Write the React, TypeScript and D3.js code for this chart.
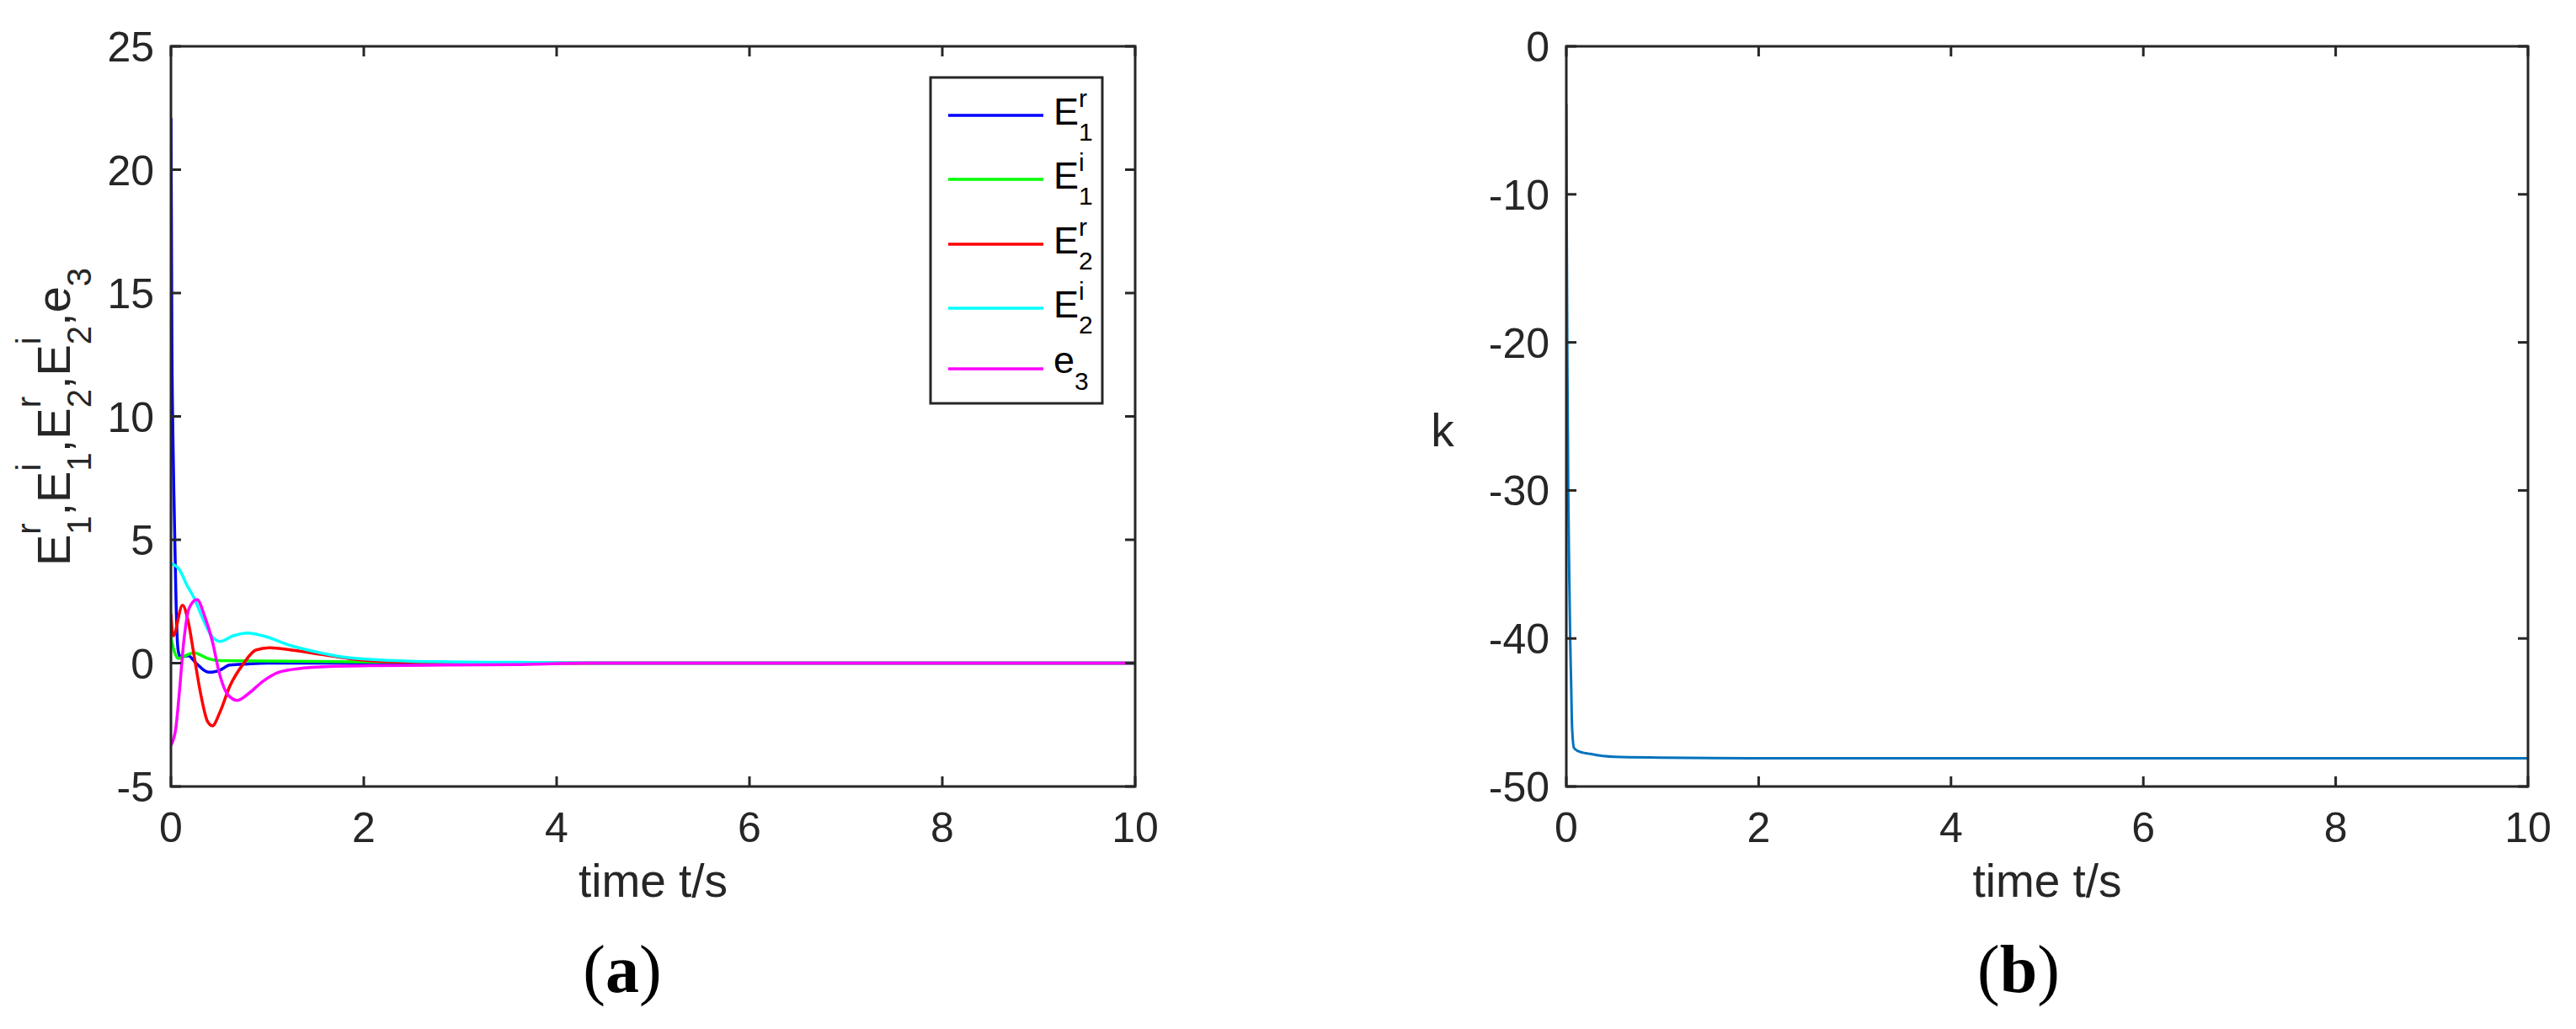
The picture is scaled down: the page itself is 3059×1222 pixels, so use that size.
import React from "react";
import * as d3 from "d3";

const W = 3059;
const H = 1222;
const AXIS = "#262626";
const SANS = "'Liberation Sans', Arial, Helvetica, sans-serif";
const SERIF = "'Liberation Serif', 'Times New Roman', serif";

// tick values
const X_TICKS = [0, 2, 4, 6, 8, 10];
const Y_TICKS_A = [-5, 0, 5, 10, 15, 20, 25];
const Y_TICKS_B = [-50, -40, -30, -20, -10, 0];

// (a) error signals
const T_E1R = [0, 0.005, 0.01, 0.02, 0.035, 0.05, 0.065, 0.08, 0.1, 0.18, 0.26, 0.39, 0.5, 0.61, 0.8, 1.0, 1.5, 10];
const V_E1R = [22.1, 18, 13, 9.3, 6, 3, 1, 0.4, 0.25, 0.3, 0, -0.37, -0.3, -0.08, -0.03, 0, 0, 0];

const T_E1I = [0, 0.03, 0.076, 0.12, 0.24, 0.38, 0.5, 1.25, 2.42, 3.2, 10];
const V_E1I = [1.05, 0.54, 0.19, 0.25, 0.42, 0.19, 0.1, 0.08, 0.03, 0, 0];

const T_E2R = [0, 0.023, 0.12, 0.18, 0.24, 0.31, 0.38, 0.43, 0.51, 0.61, 0.75, 0.88, 1.02, 1.25, 1.55, 1.84, 2.13, 2.6, 3.5, 10];
const V_E2R = [2.0, 1.1, 2.35, 1.67, 0.3, -1.28, -2.37, -2.54, -1.97, -0.94, -0.03, 0.53, 0.62, 0.53, 0.36, 0.19, 0.08, 0.03, 0, 0];

const T_E2I = [0, 0.09, 0.16, 0.24, 0.32, 0.41, 0.51, 0.64, 0.8, 0.96, 1.25, 1.55, 1.84, 2.13, 2.71, 3.58, 4.5, 10];
const V_E2I = [4.04, 3.78, 3.2, 2.64, 1.9, 1.16, 0.88, 1.1, 1.22, 1.1, 0.7, 0.42, 0.22, 0.14, 0.06, 0.03, 0, 0];

const T_E3 = [0, 0.05, 0.09, 0.13, 0.19, 0.27, 0.35, 0.43, 0.5, 0.59, 0.69, 0.79, 0.96, 1.11, 1.25, 1.55, 2.13, 3.58, 4.3, 10];
const V_E3 = [-3.33, -2.65, -1.06, 0.76, 2.24, 2.58, 1.9, 0.88, -0.38, -1.28, -1.51, -1.28, -0.72, -0.38, -0.26, -0.15, -0.1, -0.06, 0, 0];

// (b) gain k
const T_K = [0, 0.004, 0.012, 0.02, 0.03, 0.04, 0.05, 0.06, 0.08, 0.12, 0.25, 0.5, 1, 2, 10];
const V_K = [-3.9, -12, -22.5, -30, -35.5, -40, -43, -46, -47.4, -47.6, -47.8, -48.0, -48.05, -48.1, -48.1];

const SERIES_A = [
  { base: "E", sup: "r", sub: "1", color: "#0000ff", t: T_E1R, v: V_E1R },
  { base: "E", sup: "i", sub: "1", color: "#00ff00", t: T_E1I, v: V_E1I },
  { base: "E", sup: "r", sub: "2", color: "#ff0000", t: T_E2R, v: V_E2R },
  { base: "E", sup: "i", sub: "2", color: "#00ffff", t: T_E2I, v: V_E2I },
  { base: "e", sup: "", sub: "3", color: "#ff00ff", t: T_E3, v: V_E3 },
];

const LEGEND_Y = [137, 213, 290, 366, 438];

type Box = { x0: number; x1: number; y0: number; y1: number };
const BOX_A: Box = { x0: 203, x1: 1348, y0: 55, y1: 934 };
const BOX_B: Box = { x0: 1860, x1: 3002, y0: 55, y1: 934 };

function Frame({ box, x, y, yTicks, id }) {
  const tl = 12;
  return (
    <g>
      <rect x={box.x0} y={box.y0} width={box.x1 - box.x0} height={box.y1 - box.y0}
        fill="none" stroke={AXIS} strokeWidth={3} />
      {X_TICKS.map((t) => (
        <g key={"x" + t}>
          <line x1={x(t)} x2={x(t)} y1={box.y1} y2={box.y1 - tl} stroke={AXIS} strokeWidth={3} />
          <line x1={x(t)} x2={x(t)} y1={box.y0} y2={box.y0 + tl} stroke={AXIS} strokeWidth={3} />
          <text x={x(t)} y={box.y1 + 66} textAnchor="middle" fontFamily={SANS} fontSize={50} fill={AXIS}>{t}</text>
        </g>
      ))}
      {yTicks.map((v) => (
        <g key={"y" + v}>
          <line x1={box.x0} x2={box.x0 + tl} y1={y(v)} y2={y(v)} stroke={AXIS} strokeWidth={3} />
          <line x1={box.x1} x2={box.x1 - tl} y1={y(v)} y2={y(v)} stroke={AXIS} strokeWidth={3} />
          <text x={box.x0 - 20} y={y(v) + 18} textAnchor="end" fontFamily={SANS} fontSize={50} fill={AXIS}>{v}</text>
        </g>
      ))}
      <text x={(box.x0 + box.x1) / 2} y={1065} textAnchor="middle" fontFamily={SANS} fontSize={55} fill={AXIS}>time t/s</text>
    </g>
  );
}

export default function App() {
  const xA = d3.scaleLinear().domain([0, 10]).range([BOX_A.x0, BOX_A.x1]);
  const yA = d3.scaleLinear().domain([-5, 25]).range([BOX_A.y1, BOX_A.y0]);
  const xB = d3.scaleLinear().domain([0, 10]).range([BOX_B.x0, BOX_B.x1]);
  const yB = d3.scaleLinear().domain([-50, 0]).range([BOX_B.y1, BOX_B.y0]);

  const lineA = (s) =>
    d3.line<number>()
      .x((_, i) => xA(s.t[i]))
      .y((d) => yA(d))
      .curve(d3.curveMonotoneX)(s.v);

  const lineK = d3.line<number>()
    .x((_, i) => xB(T_K[i]))
    .y((d) => yB(d))
    .curve(d3.curveMonotoneX)(V_K);

  // y label of (a)
  const yLabelTerms = SERIES_A.map((s) => s);

  return (
    <svg width={W} height={H} style={{ position: "absolute", left: 0, top: 0, background: "#fff" }}>
      <defs>
        <clipPath id="clipA">
          <rect x={BOX_A.x0} y={BOX_A.y0} width={BOX_A.x1 - BOX_A.x0} height={BOX_A.y1 - BOX_A.y0} />
        </clipPath>
        <clipPath id="clipB">
          <rect x={BOX_B.x0} y={BOX_B.y0} width={BOX_B.x1 - BOX_B.x0} height={BOX_B.y1 - BOX_B.y0} />
        </clipPath>
      </defs>
      <rect x={0} y={0} width={W} height={H} fill="#fff" />

      {/* panel (a) */}
      <g clipPath="url(#clipA)">
        {SERIES_A.map((s) => (
          <path key={s.color} d={lineA(s) || ""} fill="none" stroke={s.color} strokeWidth={3.5} strokeLinejoin="round" />
        ))}
      </g>
      <Frame box={BOX_A} x={xA} y={yA} yTicks={Y_TICKS_A} id="a" />

      <text transform={`translate(83,495) rotate(-90)`} textAnchor="middle" fontFamily={SANS} fontSize={56} fill={AXIS}>
        {yLabelTerms.map((s, i) => {
          const supW = s.sup === "r" ? 0.333 * 40 : s.sup === "i" ? 0.222 * 40 : 0;
          return (
            <React.Fragment key={i}>
              <tspan>{s.base}</tspan>
              {s.sup ? <tspan fontSize={40} dy={-35}>{s.sup}</tspan> : null}
              <tspan fontSize={40} dx={-supW} dy={s.sup ? 60 : 25}>{s.sub}</tspan>
              {i < yLabelTerms.length - 1 ? <tspan dy={-25}>,</tspan> : null}
            </React.Fragment>
          );
        })}
      </text>

      {/* legend */}
      <rect x={1105} y={92} width={204} height={387} fill="#fff" stroke={AXIS} strokeWidth={3} />
      {SERIES_A.map((s, i) => {
        const ly = LEGEND_Y[i];
        const supW = s.sup === "r" ? 0.333 * 30 : s.sup === "i" ? 0.222 * 30 : 0;
        return (
          <g key={"leg" + i}>
            <line x1={1126} x2={1239} y1={ly} y2={ly} stroke={s.color} strokeWidth={3.5} />
            {s.sup ? (
              <text x={1251} y={ly + 10.6} fontFamily={SANS} fontSize={45} fill="#000">
                {s.base}
                <tspan fontSize={30} dy={-20.6}>{s.sup}</tspan>
                <tspan fontSize={30} dx={-supW} dy={40}>{s.sub}</tspan>
              </text>
            ) : (
              <text x={1251} y={ly + 5} fontFamily={SANS} fontSize={45} fill="#000">
                {s.base}
                <tspan fontSize={30} dy={19.7}>{s.sub}</tspan>
              </text>
            )}
          </g>
        );
      })}

      {/* panel (b) */}
      <g clipPath="url(#clipB)">
        <path d={lineK || ""} fill="none" stroke="#0072bd" strokeWidth={3} strokeLinejoin="round" />
      </g>
      <Frame box={BOX_B} x={xB} y={yB} yTicks={Y_TICKS_B} id="b" />
      <text x={1713} y={530} textAnchor="middle" fontFamily={SANS} fontSize={55} fill={AXIS}>k</text>

      {/* captions */}
      <text x={739} y={1178} textAnchor="middle" fontFamily={SERIF} fontSize={80} fill="#000">
        (<tspan fontWeight="bold">a</tspan>)
      </text>
      <text x={2397} y={1178} textAnchor="middle" fontFamily={SERIF} fontSize={80} fill="#000">
        (<tspan fontWeight="bold">b</tspan>)
      </text>
    </svg>
  );
}
